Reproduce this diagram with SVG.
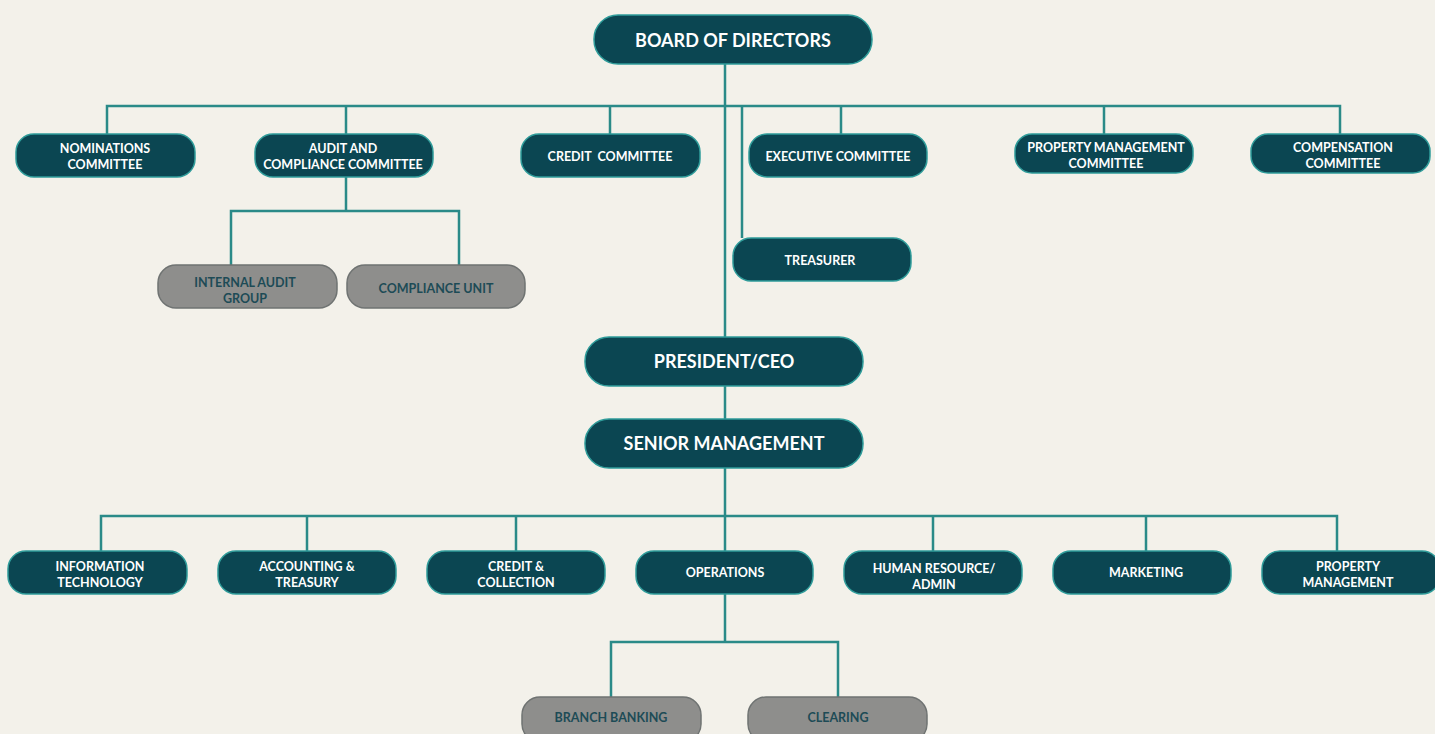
<svg xmlns="http://www.w3.org/2000/svg" width="1435" height="734" viewBox="0 0 1435 734">
<style>
.n rect{fill:#0b4652;stroke:#2f9c9a;stroke-width:1.5}
.g rect{fill:#8e8e8c;stroke:#6f7372;stroke-width:1.5}
text{font-family:Lato,"Open Sans","Liberation Sans",sans-serif;font-weight:700;text-anchor:middle}
.n text{fill:#ffffff;font-size:12.5px}
.g text{fill:#1d4b56;font-size:12.5px}
.big text{font-size:18px}
#conn path{fill:none;stroke:#2a8a88;stroke-width:2.5}
</style>
<rect x="0" y="0" width="1435" height="734" fill="#f3f1ea"/>
<g id="conn">
<path d="M725 64V337M107 134V106H1340V134M346 106V134M610 106V134M841 106V134M1104 106V134M742 106V238"/>
<path d="M346 177V211M231 265V211H459V265"/>
<path d="M725 386V419M725 468V516M101 551V516H1337V551M307 516V551M516 516V551M725 516V551M933 516V551M1146 516V551"/>
<path d="M725 594V642M611 697V642H838V697"/>
</g>
<g id="board" class="n big"><rect x="594" y="15" width="278" height="49" rx="24"/><text x="733" y="47">BOARD OF DIRECTORS</text></g>
<g id="nominations" class="n"><rect x="16" y="134" width="179" height="43" rx="18"/><text x="105" y="153">NOMINATIONS</text><text x="105" y="169">COMMITTEE</text></g>
<g id="audit" class="n"><rect x="255" y="134" width="178" height="43" rx="18"/><text x="343" y="153">AUDIT AND</text><text x="343" y="169">COMPLIANCE COMMITTEE</text></g>
<g id="credit-committee" class="n"><rect x="521" y="134" width="179" height="43" rx="18"/><text x="610" y="161">CREDIT&#160; COMMITTEE</text></g>
<g id="executive" class="n"><rect x="749" y="134" width="178" height="43" rx="18"/><text x="838" y="161">EXECUTIVE COMMITTEE</text></g>
<g id="property-committee" class="n"><rect x="1015" y="134" width="178" height="39" rx="17"/><text x="1106" y="152">PROPERTY MANAGEMENT</text><text x="1106" y="168">COMMITTEE</text></g>
<g id="compensation" class="n"><rect x="1251" y="134" width="179" height="39" rx="17"/><text x="1343" y="152">COMPENSATION</text><text x="1343" y="168">COMMITTEE</text></g>
<g id="internal-audit" class="g"><rect x="158" y="265" width="179" height="43" rx="18"/><text x="245" y="287">INTERNAL AUDIT</text><text x="245" y="303">GROUP</text></g>
<g id="compliance-unit" class="g"><rect x="347" y="265" width="178" height="43" rx="18"/><text x="436" y="293">COMPLIANCE UNIT</text></g>
<g id="treasurer" class="n"><rect x="733" y="238" width="178" height="43" rx="18"/><text x="820" y="265">TREASURER</text></g>
<g id="president" class="n big"><rect x="585" y="337" width="278" height="49" rx="24"/><text x="724" y="368">PRESIDENT/CEO</text></g>
<g id="senior" class="n big"><rect x="585" y="419" width="278" height="49" rx="24"/><text x="724" y="450">SENIOR MANAGEMENT</text></g>
<g id="it" class="n"><rect x="8" y="551" width="179" height="43" rx="18"/><text x="100" y="571">INFORMATION</text><text x="100" y="587">TECHNOLOGY</text></g>
<g id="accounting" class="n"><rect x="218" y="551" width="178" height="43" rx="18"/><text x="307" y="571">ACCOUNTING &amp;</text><text x="307" y="587">TREASURY</text></g>
<g id="credit-collection" class="n"><rect x="427" y="551" width="178" height="43" rx="18"/><text x="516" y="571">CREDIT &amp;</text><text x="516" y="587">COLLECTION</text></g>
<g id="operations" class="n"><rect x="636" y="551" width="177" height="43" rx="18"/><text x="725" y="577">OPERATIONS</text></g>
<g id="hr" class="n"><rect x="844" y="551" width="178" height="43" rx="18"/><text x="934" y="573">HUMAN RESOURCE/</text><text x="934" y="589">ADMIN</text></g>
<g id="marketing" class="n"><rect x="1053" y="551" width="178" height="43" rx="18"/><text x="1146" y="577">MARKETING</text></g>
<g id="property-management" class="n"><rect x="1262" y="551" width="178" height="43" rx="18"/><text x="1348" y="571">PROPERTY</text><text x="1348" y="587">MANAGEMENT</text></g>
<g id="branch-banking" class="g"><rect x="522" y="697" width="179" height="45" rx="18"/><text x="611" y="722">BRANCH BANKING</text></g>
<g id="clearing" class="g"><rect x="748" y="697" width="179" height="45" rx="18"/><text x="838" y="722">CLEARING</text></g>
</svg>
